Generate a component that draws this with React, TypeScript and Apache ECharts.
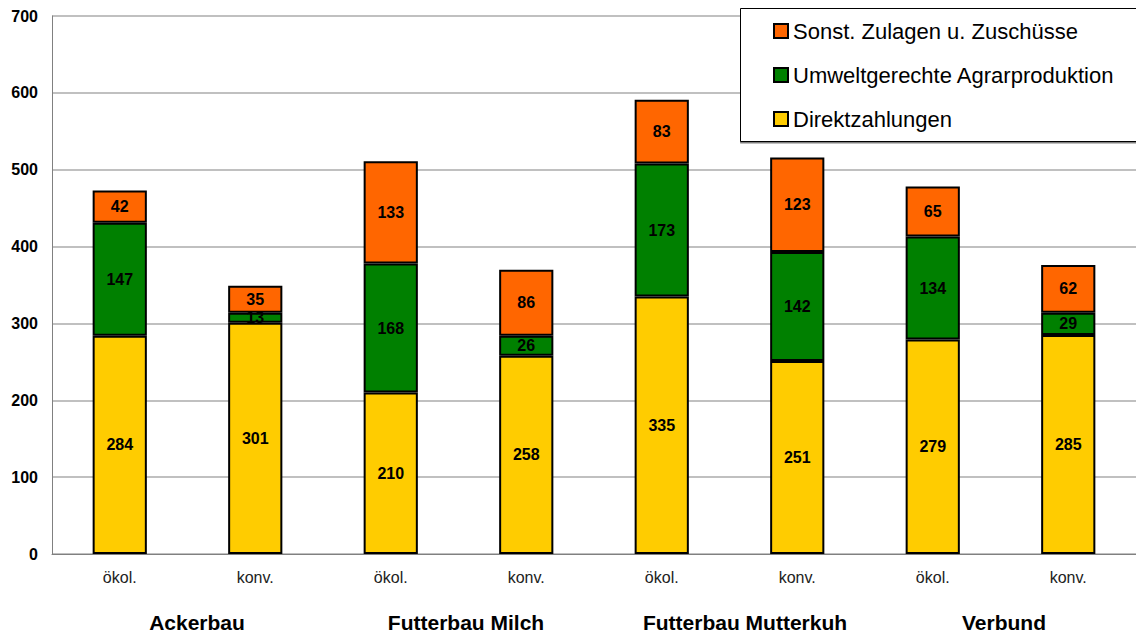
import React, { useEffect, useRef } from "react";
import * as echarts from "echarts";

const categories = ["ökol.", "konv.", "ökol.", "konv.", "ökol.", "konv.", "ökol.", "konv."];
const groups = ["Ackerbau", "Futterbau Milch", "Futterbau Mutterkuh", "Verbund"];
const direktzahlungen = [284, 301, 210, 258, 335, 251, 279, 285];
const umwelt = [147, 13, 168, 26, 173, 142, 134, 29];
const sonst = [42, 35, 133, 86, 83, 123, 65, 62];
const seriesNames = ["Direktzahlungen", "Umweltgerechte Agrarproduktion", "Sonst. Zulagen u. Zuschüsse"];
const groupLabelX = [197, 466, 745, 1004];

export default function App() {
  const ref = useRef<HTMLDivElement>(null);
  useEffect(() => {
    const chart = echarts.init(ref.current!, null, { renderer: "svg" });
    const font = "'Liberation Sans', Arial, sans-serif";
    const mk = (name: string, data: number[], color: string) => ({
      name,
      type: "bar",
      stack: "s",
      data,
      barWidth: "40%",
      itemStyle: { color, borderColor: "#000", borderWidth: 2 },
      label: {
        show: true,
        position: "inside",
        color: "#000",
        fontWeight: "bold",
        fontSize: 16,
        fontFamily: font,
      },
    });
    chart.setOption({
      animation: false,
      textStyle: { fontFamily: font },
      grid: { left: 52, right: 0, top: 16, bottom: 83, containLabel: false },
      xAxis: {
        type: "category",
        data: categories,
        axisLine: { lineStyle: { color: "#808080", width: 1 } },
        axisTick: { show: false },
        axisLabel: { color: "#222", fontSize: 16, fontFamily: font, margin: 15 },
      },
      yAxis: {
        type: "value",
        min: 0,
        max: 700,
        interval: 100,
        axisLine: { show: true, lineStyle: { color: "#808080", width: 1 } },
        axisTick: { show: false },
        splitLine: { lineStyle: { color: "#c0c0c0", width: 2 } },
        axisLabel: { color: "#000", fontWeight: "bold", fontSize: 16, fontFamily: font, margin: 14 },
      },
      legend: {
        orient: "vertical",
        left: 773,
        top: 20,
        padding: 0,
        itemGap: 22,
        itemWidth: 14,
        itemHeight: 14,
        icon: "rect",
        z: 10,
        data: [seriesNames[2], seriesNames[1], seriesNames[0]],
        textStyle: { color: "#000", fontSize: 22, fontFamily: font, lineHeight: 22 },
      },
      graphic: [
        {
          type: "rect",
          z: 3,
          shape: { x: 740.5, y: 8.5, width: 400, height: 133 },
          style: { fill: "#fff", stroke: "#000", lineWidth: 1, shadowColor: "rgba(0,0,0,0.5)", shadowOffsetY: 1.5, shadowBlur: 0 },
        },
        ...groups.map((g, i) => ({
          type: "text",
          z: 3,
          x: groupLabelX[i],
          y: 622,
          style: {
            text: g,
            fill: "#000",
            font: `bold 21px ${font}`,
            textAlign: "center",
            textVerticalAlign: "middle",
          },
        })),
      ],
      series: [
        mk(seriesNames[0], direktzahlungen, "#ffcc00"),
        mk(seriesNames[1], umwelt, "#008000"),
        mk(seriesNames[2], sonst, "#ff6600"),
      ],
    });
    return () => chart.dispose();
  }, []);
  return (
    <div
      ref={ref}
      style={{ position: "absolute", left: 0, top: 0, width: 1136, height: 637, background: "#fff" }}
    />
  );
}
